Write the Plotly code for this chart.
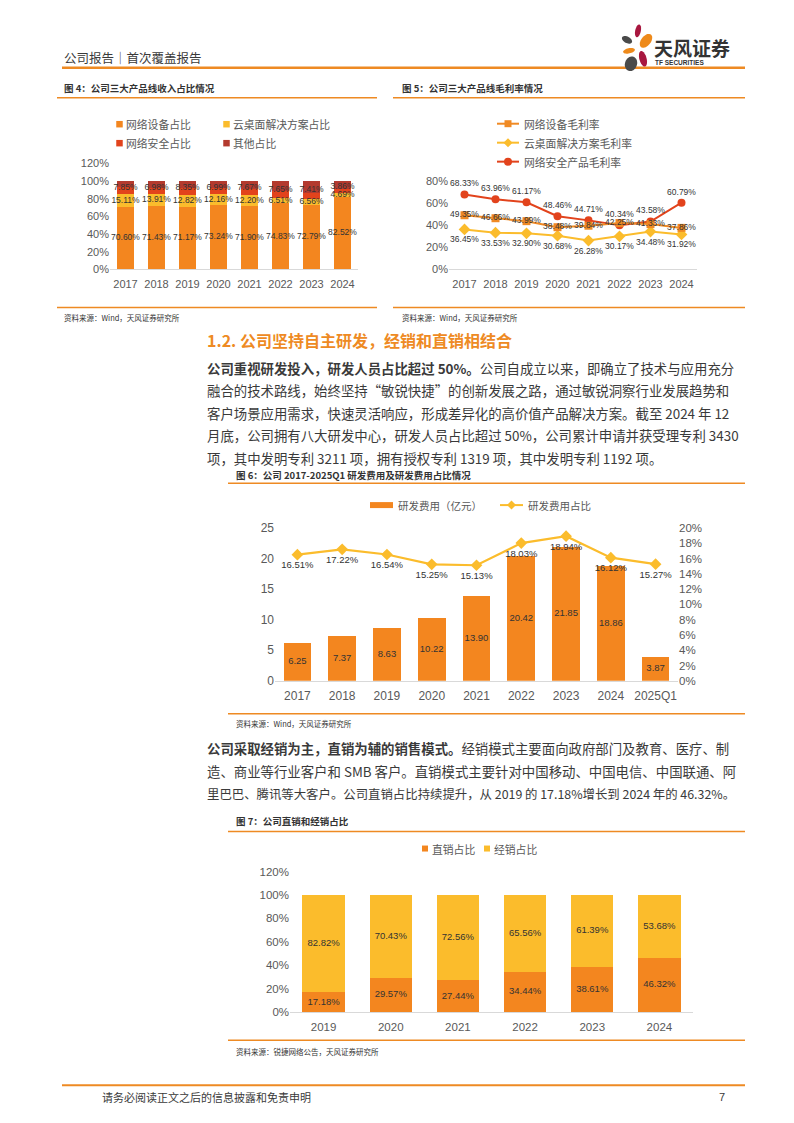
import math
import plotly.graph_objects as go

W, H = 794, 1123
FONT = "Liberation Sans, Noto Sans CJK SC, sans-serif"
CJK = "Noto Sans CJK SC, sans-serif"

# ---------------- data ----------------
years_a = ["2017", "2018", "2019", "2020", "2021", "2022", "2023", "2024"]
net_dev_share = [70.60, 71.43, 71.17, 73.24, 71.90, 74.83, 72.79, 82.52]
cloud_share = [15.11, 13.91, 12.82, 12.16, 12.20, 6.51, 6.56, 4.69]
security_share = [7.85, 6.98, 8.35, 6.99, 7.67, 7.65, 7.41, 3.86]

net_dev_margin = [49.35, 46.66, 43.99, 38.48, 39.84, 42.25, 41.33, 37.86]
cloud_margin = [36.45, 33.53, 32.90, 30.68, 26.28, 30.17, 34.48, 31.92]
security_margin = [68.33, 63.96, 61.17, 48.46, 44.71, 40.34, 43.58, 60.79]

years_rd = ["2017", "2018", "2019", "2020", "2021", "2022", "2023", "2024", "2025Q1"]
rd_expense = [6.25, 7.37, 8.63, 10.22, 13.90, 20.42, 21.85, 18.86, 3.87]
rd_ratio = [16.51, 17.22, 16.54, 15.25, 15.13, 18.03, 18.94, 16.12, 15.27]

years_s = ["2019", "2020", "2021", "2022", "2023", "2024"]
direct_share = [17.18, 29.57, 27.44, 34.44, 38.61, 46.32]
dist_share = [82.82, 70.43, 72.56, 65.56, 61.39, 53.68]

other_share = [round(100 - a - b - c, 2) for a, b, c in zip(net_dev_share, cloud_share, security_share)]

# ---------------- colours ----------------
ORANGE = "#F3861F"
YELLOW = "#FBBC2C"
RED = "#E2431C"
DARKRED = "#B33A2E"
LINE_OR = "#EE8A23"
TXT = "#404040"
TICK = "#595959"
LBL = "#333333"

K = 1.011  # vertical spread about page centre


def px(x):
    return x / W


def py(y):
    y2 = 561.5 + (y - 561.5) * K
    return 1 - y2 / H


fig = go.Figure()

# ---------- chart 4: stacked revenue share ----------
for vals, col, name in [(net_dev_share, ORANGE, "网络设备占比"), (cloud_share, YELLOW, "云桌面解决方案占比"),
                        (security_share, RED, "网络安全占比"), (other_share, DARKRED, "其他占比")]:
    fig.add_trace(go.Bar(x=years_a, y=vals, marker_color=col, width=0.58, name=name,
                         marker_line_width=0, xaxis="x", yaxis="y", showlegend=False))
lab_dev_y = [v / 2 for v in net_dev_share]
lab_cloud_y = [a + b / 2 for a, b in zip(net_dev_share, cloud_share)]
lab_sec_y = [(a + b + 100) / 2 for a, b in zip(net_dev_share, cloud_share)]
for ys, vals in [(lab_dev_y, net_dev_share), (lab_cloud_y, cloud_share), (lab_sec_y, security_share)]:
    fig.add_trace(go.Scatter(x=years_a, y=ys, mode="text", text=[f"{v:.2f}%" for v in vals],
                             textfont=dict(size=8.5, color=LBL, family=FONT), xaxis="x", yaxis="y",
                             showlegend=False, cliponaxis=False, hoverinfo="skip"))

# ---------- chart 5: margins ----------
fig.add_trace(go.Scatter(x=years_a, y=security_margin, mode="lines+markers+text",
                         line=dict(color=RED, width=2), marker=dict(symbol="circle", size=8, color=RED),
                         text=[f"{v:.2f}%" for v in security_margin], textposition="top center",
                         textfont=dict(size=8.5, color=LBL, family=FONT), xaxis="x2", yaxis="y2",
                         showlegend=False, cliponaxis=False))
fig.add_trace(go.Scatter(x=years_a, y=cloud_margin, mode="lines+markers+text",
                         line=dict(color=YELLOW, width=2), marker=dict(symbol="diamond", size=9, color=YELLOW),
                         text=[f"{v:.2f}%" for v in cloud_margin], textposition="bottom center",
                         textfont=dict(size=8.5, color=LBL, family=FONT), xaxis="x2", yaxis="y2",
                         showlegend=False, cliponaxis=False))
fig.add_trace(go.Scatter(x=years_a, y=net_dev_margin, mode="lines+markers+text",
                         line=dict(color="#F08A24", width=2), marker=dict(symbol="square", size=8, color="#F08A24"),
                         text=[f"{v:.2f}%" for v in net_dev_margin], textposition="middle center",
                         textfont=dict(size=8.5, color=LBL, family=FONT), xaxis="x2", yaxis="y2",
                         showlegend=False, cliponaxis=False))

# ---------- chart 6: R&D ----------
fig.add_trace(go.Bar(x=years_rd, y=rd_expense, marker_color=ORANGE, width=0.62, marker_line_width=0,
                     xaxis="x3", yaxis="y3", showlegend=False))
fig.add_trace(go.Scatter(x=years_rd, y=[v / 2 for v in rd_expense], mode="text",
                         text=[f"{v:.2f}" for v in rd_expense],
                         textfont=dict(size=9.5, color=LBL, family=FONT), xaxis="x3", yaxis="y3",
                         showlegend=False, cliponaxis=False, hoverinfo="skip"))
fig.add_trace(go.Scatter(x=years_rd, y=rd_ratio, mode="lines+markers+text",
                         line=dict(color=YELLOW, width=2.2), marker=dict(symbol="diamond", size=9, color=YELLOW),
                         text=[f"{v:.2f}%" for v in rd_ratio], textposition="bottom center",
                         textfont=dict(size=9.5, color=LBL, family=FONT), xaxis="x3", yaxis="y4",
                         showlegend=False, cliponaxis=False))

# ---------- chart 7: sales channel ----------
fig.add_trace(go.Bar(x=years_s, y=direct_share, marker_color=ORANGE, width=0.63, marker_line_width=0,
                     xaxis="x4", yaxis="y5", showlegend=False))
fig.add_trace(go.Bar(x=years_s, y=dist_share, marker_color=YELLOW, width=0.63, marker_line_width=0,
                     xaxis="x4", yaxis="y5", showlegend=False))
fig.add_trace(go.Scatter(x=years_s, y=[v / 2 for v in direct_share], mode="text",
                         text=[f"{v:.2f}%" for v in direct_share],
                         textfont=dict(size=9.5, color=LBL, family=FONT), xaxis="x4", yaxis="y5",
                         showlegend=False, cliponaxis=False, hoverinfo="skip"))
fig.add_trace(go.Scatter(x=years_s, y=[a + b / 2 for a, b in zip(direct_share, dist_share)], mode="text",
                         text=[f"{v:.2f}%" for v in dist_share],
                         textfont=dict(size=9.5, color=LBL, family=FONT), xaxis="x4", yaxis="y5",
                         showlegend=False, cliponaxis=False, hoverinfo="skip"))

# ---------------- axes ----------------
def xax(d0, d1, anchor, n, size=11):
    return dict(domain=[px(d0), px(d1)], anchor=anchor, type="category", range=[-0.5, n - 0.5],
                showline=True, linecolor="#D9D9D9", linewidth=1, ticks="", showgrid=False,
                tickfont=dict(size=size, color=TICK, family=FONT), ticklabelstandoff=4, fixedrange=True)


def yax(t, b, rng, dtick, suffix="", size=11, **kw):
    d = dict(domain=[py(b), py(t)], range=rng, dtick=dtick, ticksuffix=suffix, showgrid=False,
             zeroline=False, showline=False, ticks="", tickfont=dict(size=size, color=TICK, family=FONT),
             fixedrange=True)
    d.update(kw)
    return d


layout = dict(
    width=W, height=H, margin=dict(l=0, r=0, t=0, b=0), paper_bgcolor="white", plot_bgcolor="rgba(0,0,0,0)",
    barmode="stack", showlegend=False, font=dict(family=FONT, color=TXT), hovermode=False,
    xaxis=xax(110, 358, "y", 8, 11),
    yaxis=yax(163, 269, [0, 120], 20, "%", 11, anchor="x"),
    xaxis2=xax(449, 697, "y2", 8, 11),
    yaxis2=yax(181, 269, [0, 80], 20, "%", 11, anchor="x2"),
    xaxis3=xax(275, 678, "y3", 9, 12),
    yaxis3=yax(528, 681, [0, 25], 5, "", 12, anchor="x3"),
    yaxis4=yax(528, 681, [0, 20], 2, "%", 11.5, anchor="x3", overlaying="y3", side="right"),
    xaxis4=xax(290, 693, "y5", 6, 11.5),
    yaxis5=yax(872, 1013, [0, 120], 20, "%", 11.5, anchor="x4"),
)
fig.update_layout(**layout)

shapes = []
ann = []


def hline(x0, x1, y, w=1.5, col=LINE_OR):
    shapes.append(dict(type="line", xref="paper", yref="paper", x0=px(x0), x1=px(x1), y0=py(y), y1=py(y),
                       line=dict(color=col, width=w)))


def text(x, y, s, size, col=TXT, anchor="left", family=CJK):
    ann.append(dict(xref="paper", yref="paper", x=px(x), y=py(y), text=s, showarrow=False,
                    xanchor=anchor, yanchor="middle", font=dict(size=size, color=col, family=family)))


def sq(cx, cy, s, col):
    shapes.append(dict(type="rect", xref="paper", yref="paper", x0=px(cx - s / 2), x1=px(cx + s / 2),
                       y0=py(cy + s / 2), y1=py(cy - s / 2), fillcolor=col, line=dict(width=0)))


def circ(cx, cy, r, col):
    shapes.append(dict(type="circle", xref="paper", yref="paper", x0=px(cx - r), x1=px(cx + r),
                       y0=py(cy + r), y1=py(cy - r), fillcolor=col, line=dict(width=0)))


def diamond(cx, cy, r, col):
    p = f"M {px(cx)},{py(cy - r)} L {px(cx + r)},{py(cy)} L {px(cx)},{py(cy + r)} L {px(cx - r)},{py(cy)} Z"
    shapes.append(dict(type="path", xref="paper", yref="paper", path=p, fillcolor=col, line=dict(width=0)))


def ellipse(cx, cy, rx, ry, ang, col):
    a = math.radians(ang)
    pts = []
    for i in range(36):
        t = 2 * math.pi * i / 36
        x = rx * math.cos(t)
        y = ry * math.sin(t)
        xr = cx + x * math.cos(a) - y * math.sin(a)
        yr = cy + x * math.sin(a) + y * math.cos(a)
        pts.append(f"{px(xr)},{py(yr)}")
    shapes.append(dict(type="path", xref="paper", yref="paper", path="M " + " L ".join(pts) + " Z",
                       fillcolor=col, line=dict(width=0)))


def legline(x0, x1, y, col, marker):
    shapes.append(dict(type="line", xref="paper", yref="paper", x0=px(x0), x1=px(x1), y0=py(y), y1=py(y),
                       line=dict(color=col, width=2)))
    m = (x0 + x1) / 2
    if marker == "square":
        sq(m, y, 7, col)
    elif marker == "circle":
        circ(m, y, 4, col)
    else:
        diamond(m, y, 4.5, col)


# ---------------- header ----------------
text(62, 57, "公司报告｜首次覆盖报告", 12.5, "#3A3A3A")
hline(62, 745, 67, 2.5)
ellipse(638, 30, 2.8, 6.5, 12, "#A8173F")
ellipse(627, 39, 5.5, 3.2, 28, "#4A4A4A")
ellipse(646, 40, 4.8, 8, 38, "#EE8A1B")
ellipse(629, 50, 6, 2.6, -12, "#EE8A1B")
ellipse(643, 58, 3.6, 8, -15, "#A8173F")
ellipse(631, 63, 6, 7.5, 20, "#4A4A4A")
text(652, 47, "<b>天风证券</b>", 19, "#333333")
text(653, 62, "<b>TF SECURITIES</b>", 6.5, "#333333", family="Liberation Sans")

# ---------------- figure 4 & 5 frames ----------------
text(62, 87, "<b>图 4：公司三大产品线收入占比情况</b>", 9.5, "#333333")
text(400, 87, "<b>图 5：公司三大产品线毛利率情况</b>", 9.5, "#333333")
hline(57, 377, 97)
hline(393, 745, 97)
hline(57, 377, 307)
hline(393, 745, 307)
text(62, 317, "资料来源：Wind，天风证券研究所", 7.5, "#333333")
text(400, 317, "资料来源：Wind，天风证券研究所", 7.5, "#333333")

# legend chart 4
sq(119.5, 123.5, 6.5, ORANGE)
text(124, 123, "网络设备占比", 10.8, TICK)
sq(226.5, 123.5, 6.5, YELLOW)
text(231, 123, "云桌面解决方案占比", 10.8, TICK)
sq(119.5, 142.5, 6.5, RED)
text(124, 142, "网络安全占比", 10.8, TICK)
sq(226.5, 142.5, 6.5, DARKRED)
text(231, 142, "其他占比", 10.8, TICK)

# legend chart 5
legline(497, 519, 123, "#F08A24", "square")
text(522, 123, "网络设备毛利率", 10.8, TICK)
legline(497, 519, 142, YELLOW, "diamond")
text(522, 142, "云桌面解决方案毛利率", 10.8, TICK)
legline(497, 519, 161, RED, "circle")
text(522, 161, "网络安全产品毛利率", 10.8, TICK)

# ---------------- section heading & paragraph 1 ----------------
text(205, 340, "<b>1.2. 公司坚持自主研发，经销和直销相结合</b>", 16, "#EE8A23")
para1 = [
    "<b>公司重视研发投入，研发人员占比超过 50%。</b>公司自成立以来，即确立了技术与应用充分",
    "融合的技术路线，始终坚持“敏锐快捷”的创新发展之路，通过敏锐洞察行业发展趋势和",
    "客户场景应用需求，快速灵活响应，形成差异化的高价值产品解决方案。截至 2024 年 12",
    "月底，公司拥有八大研发中心，研发人员占比超过 50%，公司累计申请并获受理专利 3430",
    "项，其中发明专利 3211 项，拥有授权专利 1319 项，其中发明专利 1192 项。",
]
for i, s in enumerate(para1):
    text(205, 367.5 + 22.5 * i, s, 13.4, "#3A3A3A")

# ---------------- figure 6 frame ----------------
text(234, 475, "<b>图 6：公司 2017-2025Q1 研发费用及研发费用占比情况</b>", 9.5, "#333333")
hline(228, 745, 483)
hline(228, 745, 714)
text(234, 724, "资料来源：Wind，天风证券研究所", 7.5, "#333333")
shapes.append(dict(type="rect", xref="paper", yref="paper", x0=px(370), x1=px(393), y0=py(508), y1=py(502),
                   fillcolor=ORANGE, line=dict(width=0)))
text(396, 505, "研发费用（亿元）", 10.5, TICK)
legline(500, 523, 505, YELLOW, "diamond")
text(526, 505, "研发费用占比", 10.5, TICK)

# ---------------- paragraph 2 ----------------
para2 = [
    "<b>公司采取经销为主，直销为辅的销售模式。</b>经销模式主要面向政府部门及教育、医疗、制",
    "造、商业等行业客户和 SMB 客户。直销模式主要针对中国移动、中国电信、中国联通、阿",
    "里巴巴、腾讯等大客户。公司直销占比持续提升，从 2019 的 17.18%增长到 2024 年的 46.32%。",
]
para2_size = [13.4, 13.4, 12.4]
for i, s in enumerate(para2):
    text(205, 748 + 23 * i, s, para2_size[i], "#3A3A3A")

# ---------------- figure 7 frame ----------------
text(234, 821, "<b>图 7：公司直销和经销占比</b>", 9.5, "#333333")
hline(228, 745, 832)
hline(228, 745, 1041)
text(234, 1052, "资料来源：锐捷网络公告，天风证券研究所", 7.5, "#333333")
sq(425, 849, 6, ORANGE)
text(430, 849, "直销占比", 10.8, TICK)
sq(487, 849, 6, YELLOW)
text(492, 849, "经销占比", 10.8, TICK)

# ---------------- footer ----------------
hline(62, 745, 1086, 2)
text(100, 1098, "请务必阅读正文之后的信息披露和免责申明", 11, "#3A3A3A")
text(727, 1098, "7", 11, "#3A3A3A", anchor="right", family="Liberation Sans")

fig.update_layout(shapes=shapes, annotations=ann)
fig.write_html("out.html", config={"displayModeBar": False, "staticPlot": True},
               post_script="document.body.style.margin='0';document.body.style.padding='0';document.body.style.overflow='hidden';")
